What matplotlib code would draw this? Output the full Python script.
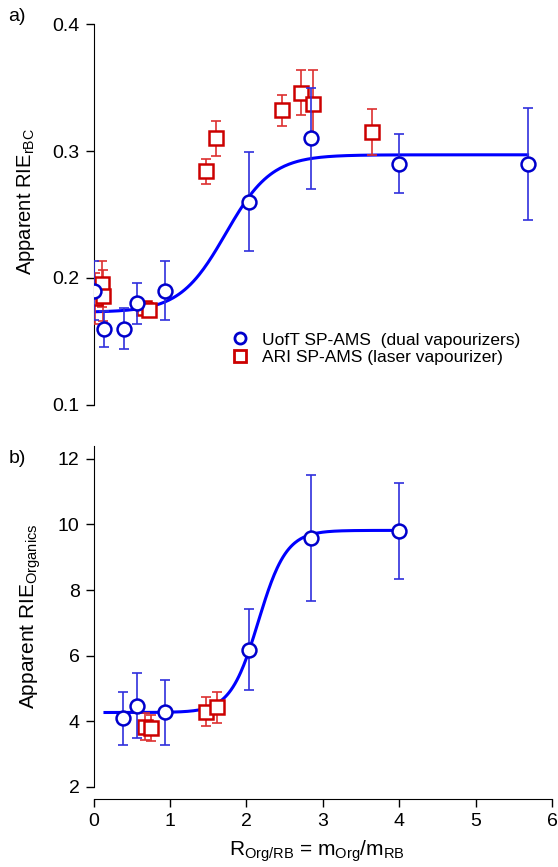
import numpy as np
import matplotlib
matplotlib.use("Agg")
import matplotlib.pyplot as plt
from matplotlib.lines import Line2D

plt.rcParams["font.family"] = ["Liberation Sans", "DejaVu Sans"]
plt.rcParams["mathtext.fontset"] = "custom"
plt.rcParams["mathtext.rm"] = "Liberation Sans"
plt.rcParams["mathtext.it"] = "Liberation Sans"

# ---- panel a) apparent RIE of rBC ----
uoft_x_a = [0.0, 0.14, 0.40, 0.57, 0.93, 2.04, 2.85, 4.00, 5.68]
uoft_y_a = [0.190, 0.160, 0.160, 0.180, 0.190, 0.260, 0.310, 0.290, 0.290]
uoft_e_a = [0.023, 0.014, 0.016, 0.016, 0.023, 0.039, 0.040, 0.023, 0.044]

ari_x_a = [0.02, 0.11, 0.13, 0.66, 0.73, 1.47, 1.60, 2.46, 2.72, 2.87, 3.65]
ari_y_a = [0.184, 0.195, 0.186, 0.176, 0.175, 0.284, 0.310, 0.332, 0.346, 0.337, 0.315]
ari_e_a = [0.020, 0.018, 0.020, 0.005, 0.005, 0.010, 0.014, 0.012, 0.018, 0.027, 0.018]

# sigmoid fit: base, max, x_half, rate
fit_a = (0.173, 0.297, 1.73, 0.30)
fit_a_range = (0.02, 5.68)

# ---- panel b) apparent RIE of organics ----
uoft_x_b = [0.39, 0.57, 0.93, 2.04, 2.85, 4.00]
uoft_y_b = [4.09, 4.48, 4.27, 6.18, 9.60, 9.80]
uoft_e_b = [0.81, 0.98, 0.98, 1.23, 1.92, 1.47]

ari_x_b = [0.67, 0.75, 1.47, 1.61]
ari_y_b = [3.84, 3.79, 4.30, 4.43]
ari_e_b = [0.40, 0.40, 0.44, 0.47]

fit_b = (4.27, 9.82, 2.157, 0.183)
fit_b_range = (0.15, 4.00)

BLUE = "#0000ff"
BLUE_M = "#0000cc"
BLUE_E = "#3030dd"
RED_M = "#cc0000"
RED_E = "#dd3030"


def sigmoid(x, base, top, xh, rate):
    return base + (top - base) / (1 + np.exp((xh - x) / rate))


def draw(ax, ux, uy, ue, rx, ry, re, fit, frange):
    xs = np.linspace(frange[0], frange[1], 300)
    ax.plot(xs, sigmoid(xs, *fit), color=BLUE, lw=2.2, zorder=2)
    ax.errorbar(rx, ry, yerr=re, fmt="none", ecolor=RED_E, elinewidth=1.2,
                capsize=3.6, capthick=1.2, zorder=3)
    ax.plot(rx, ry, "s", ms=9.5, mfc="white", mec=RED_M, mew=1.8, zorder=4)
    ax.errorbar(ux, uy, yerr=ue, fmt="none", ecolor=BLUE_E, elinewidth=1.2,
                capsize=3.6, capthick=1.2, zorder=5)
    ax.plot(ux, uy, "o", ms=10, mfc="white", mec=BLUE_M, mew=1.8, zorder=6)


fig = plt.figure(figsize=(5.58, 8.67), dpi=100)
fig.patch.set_facecolor("white")

ax1 = fig.add_axes([0.1676, 0.5329, 0.8217, 0.4394])
ax2 = fig.add_axes([0.1676, 0.0923, 0.8217, 0.3936])

draw(ax1, uoft_x_a, uoft_y_a, uoft_e_a, ari_x_a, ari_y_a, ari_e_a, fit_a, fit_a_range)
draw(ax2, uoft_x_b, uoft_y_b, uoft_e_b, ari_x_b, ari_y_b, ari_e_b, fit_b, fit_b_range)

for ax in (ax1, ax2):
    ax.set_xlim(0, 6)
    ax.spines["top"].set_visible(False)
    ax.spines["right"].set_visible(False)
    ax.tick_params(axis="both", direction="out", length=6, width=1, labelsize=14,
                   pad=4)
    ax.patch.set_alpha(0)

ax1.set_ylim(0.1, 0.4)
ax1.set_yticks([0.1, 0.2, 0.3, 0.4])
ax1.set_yticklabels(["0.1", "0.2", "0.3", "0.4"])
ax1.spines["bottom"].set_visible(False)
ax1.set_xticks([])

ax2.set_ylim(2, 12.4)
ax2.set_yticks([2, 4, 6, 8, 10, 12])
ax2.spines["left"].set_bounds(2, 12.4)
ax2.spines["bottom"].set_position(("outward", 9))
ax2.set_xticks([0, 1, 2, 3, 4, 5, 6])

handles = [
    Line2D([], [], ls="none", marker="o", ms=8, mfc="white", mec=BLUE_M, mew=2),
    Line2D([], [], ls="none", marker="s", ms=8, mfc="white", mec=RED_M, mew=2),
]
ax1.legend(handles, ["UofT SP-AMS  (dual vapourizers)", "ARI SP-AMS (laser vapourizer)"],
           loc="center left", bbox_to_anchor=(0.302, 0.148), frameon=False,
           fontsize=12.5, handlelength=0.95, handletextpad=0.75, labelspacing=0.12,
           borderpad=0, borderaxespad=0)

fig.text(0.046, 0.768, r"Apparent RIE$_{\mathrm{rBC}}$", rotation=90, fontsize=14.5,
         ha="center", va="center")
fig.text(0.055, 0.2895, r"Apparent RIE$_{\mathrm{Organics}}$", rotation=90, fontsize=15,
         ha="center", va="center")
fig.text(0.568, 0.018, r"R$_{\mathrm{Org/RB}}$ = m$_{\mathrm{Org}}$/m$_{\mathrm{RB}}$",
         fontsize=15, ha="center", va="center")
fig.text(0.015, 0.981, "a)", fontsize=14, ha="left", va="center")
fig.text(0.015, 0.471, "b)", fontsize=14, ha="left", va="center")

fig.savefig("out.png", dpi=100, facecolor="white")
